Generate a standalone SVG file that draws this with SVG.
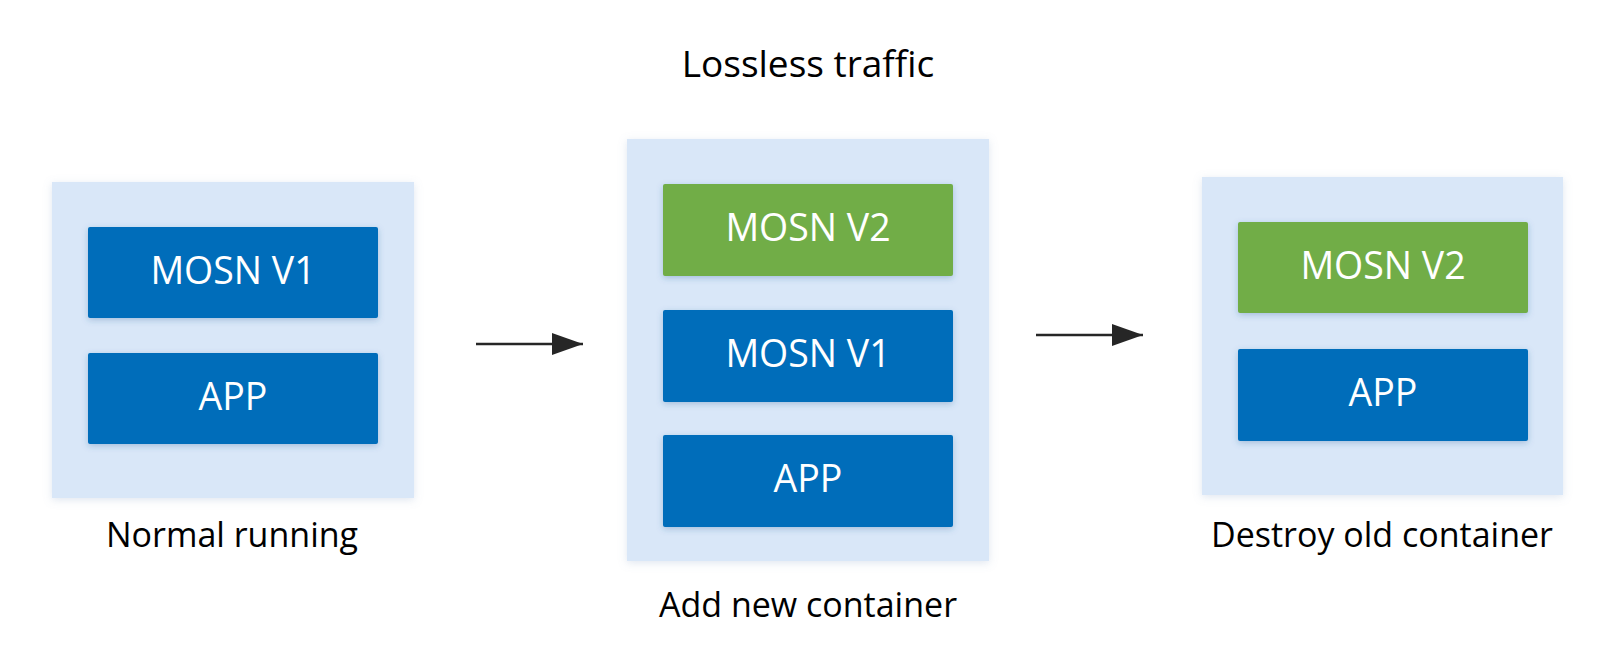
<svg xmlns="http://www.w3.org/2000/svg" width="1616" height="656" viewBox="0 0 1616 656">
<defs>
<style>
.panel{fill:#d9e7f8;}
.blue{fill:#006dba;}
.green{fill:#71ad47;}
.bt{font-family:"Open Sans","Liberation Sans",sans-serif;font-size:37.5px;fill:#ffffff;text-anchor:middle;}
.lbl{font-family:"Open Sans","Liberation Sans",sans-serif;font-size:34px;fill:#000000;text-anchor:middle;}
.ttl{font-family:"Open Sans","Liberation Sans",sans-serif;font-size:37px;fill:#000000;text-anchor:middle;}
.conn{stroke:#262626;stroke-width:2.5;fill:none;}
</style>
<filter id="psh" x="-10%" y="-10%" width="120%" height="120%">
<feDropShadow dx="0" dy="2" stdDeviation="4" flood-color="#7f9cc0" flood-opacity="0.25"/>
</filter>
<filter id="bsh" x="-10%" y="-20%" width="120%" height="140%">
<feDropShadow dx="0" dy="2" stdDeviation="3" flood-color="#2a5f9a" flood-opacity="0.3"/>
</filter>
<marker id="ah" markerUnits="userSpaceOnUse" markerWidth="32" markerHeight="24" refX="31" refY="11" orient="auto">
<path d="M0,0 L31,11 L0,22 Z" fill="#262626"/>
</marker>
</defs>
<rect width="1616" height="656" fill="#ffffff"/>

<g id="title">
<text class="ttl" x="808" y="77">Lossless traffic</text>
</g>

<g id="normal">
<rect class="panel" x="52" y="182" width="362" height="316" filter="url(#psh)"/>
<g id="n1-mosnv1">
<rect class="blue" x="88" y="227" width="290" height="91" rx="2" filter="url(#bsh)"/>
<text class="bt" x="233" y="284">MOSN V1</text>
</g>
<g id="n1-app">
<rect class="blue" x="88" y="353" width="290" height="91" rx="2" filter="url(#bsh)"/>
<text class="bt" x="233" y="410">APP</text>
</g>
<text class="lbl" x="232" y="547">Normal running</text>
</g>

<g id="addnew">
<rect class="panel" x="627" y="139" width="362" height="422" filter="url(#psh)"/>
<g id="n2-mosnv2">
<rect class="green" x="663" y="184" width="290" height="92" rx="2" filter="url(#bsh)"/>
<text class="bt" x="808" y="241">MOSN V2</text>
</g>
<g id="n2-mosnv1">
<rect class="blue" x="663" y="310" width="290" height="92" rx="2" filter="url(#bsh)"/>
<text class="bt" x="808" y="367">MOSN V1</text>
</g>
<g id="n2-app">
<rect class="blue" x="663" y="435" width="290" height="92" rx="2" filter="url(#bsh)"/>
<text class="bt" x="808" y="492">APP</text>
</g>
<text class="lbl" x="808" y="617">Add new container</text>
</g>

<g id="destroy">
<rect class="panel" x="1202" y="177" width="361" height="318" filter="url(#psh)"/>
<g id="n3-mosnv2">
<rect class="green" x="1238" y="222" width="290" height="91" rx="2" filter="url(#bsh)"/>
<text class="bt" x="1383" y="279">MOSN V2</text>
</g>
<g id="n3-app">
<rect class="blue" x="1238" y="349" width="290" height="92" rx="2" filter="url(#bsh)"/>
<text class="bt" x="1383" y="406">APP</text>
</g>
<text class="lbl" x="1382" y="547">Destroy old container</text>
</g>

<g id="connectors">
<line class="conn" x1="476" y1="344" x2="583" y2="344" marker-end="url(#ah)"/>
<line class="conn" x1="1036" y1="335" x2="1143" y2="335" marker-end="url(#ah)"/>
</g>
</svg>
